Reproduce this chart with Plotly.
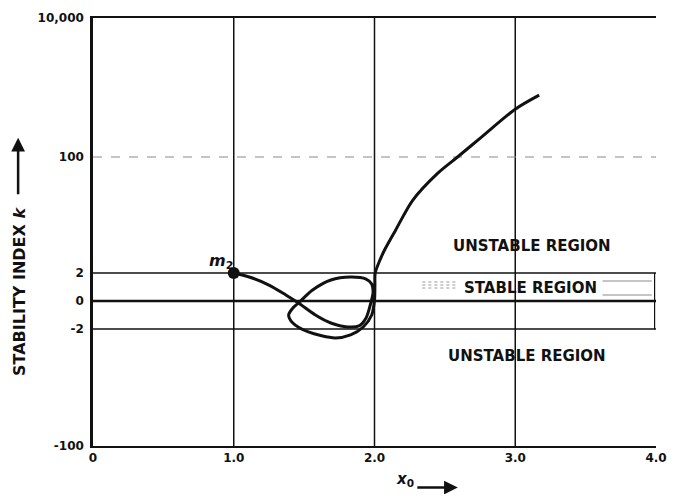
import numpy as np
import plotly.graph_objects as go

# curve: x0 vs stability index k
X0 = [1.00, 1.11, 1.25, 1.37, 1.46, 1.58, 1.69, 1.81, 1.89, 1.94, 1.97, 1.99,
      1.98, 1.94, 1.83, 1.69, 1.56, 1.46, 1.42, 1.39, 1.42, 1.53, 1.72, 1.83,
      1.92, 1.98, 2.00, 2.003, 2.005, 2.04, 2.075, 2.15, 2.27, 2.45, 2.59, 2.76,
      3.00, 3.17]
K = [2.0, 1.56, 0.87, 0.27, -0.08, -0.73, -1.37, -1.77, -1.66, -0.95, -0.17, 0.42,
     0.95, 1.37, 1.56, 1.28, 0.54, -0.08, -0.32, -0.73, -1.37, -2.28, -2.93, -2.59,
     -1.77, -0.73, 0.04, 0.87, 2.0, 3.5, 5.2, 10.0, 26.0, 61.0, 100.0, 194.0,
     490.0, 780.0]

M2_X0 = [1.0]
M2_K = [2.0]

K_TICKS = [-100, -2, 0, 2, 100, 10000]
K_LABELS = ['-100', '-2', '0', '2', '100', '10,000']
X_TICKS = [0, 1, 2, 3, 4]
X_LABELS = ['0', '1.0', '2.0', '3.0', '4.0']

# the k axis is a hand-stretched symlog; offsets of the tick marks in plot units
K_AXIS_POS = [-145, -28, 0, 28, 144, 283]


def k_scale(k):
    k = np.asarray(k, dtype=float)
    kt = np.asarray(K_TICKS, dtype=float)
    t = np.sign(k) * np.log10(1 + np.abs(k))
    t_ticks = np.sign(kt) * np.log10(1 + np.abs(kt))
    return np.interp(t, t_ticks, K_AXIS_POS)


FONT = "DejaVu Sans"
INK = "#111111"

fig = go.Figure()

fig.add_trace(go.Scatter(
    x=X0, y=k_scale(K),
    mode='lines',
    line=dict(color=INK, width=3, shape='spline', smoothing=0.8),
    showlegend=False, hoverinfo='skip'
))
fig.add_trace(go.Scatter(
    x=M2_X0, y=k_scale(M2_K),
    mode='markers',
    marker=dict(color=INK, size=12),
    showlegend=False, hoverinfo='skip'
))

# grid lines
y_lo, y_hi = K_AXIS_POS[0], K_AXIS_POS[-1]
for xv in [1, 2, 3]:
    fig.add_shape(type='line', x0=xv, x1=xv, y0=y_lo, y1=y_hi,
                  line=dict(color=INK, width=1.5), layer='below')
fig.add_shape(type='line', x0=0, x1=4, y0=float(k_scale(100)), y1=float(k_scale(100)),
              line=dict(color='#8a8a8a', width=1.2, dash='dash'), layer='below')
for kv, w in [(2, 1.3), (-2, 1.3), (0, 2.5)]:
    yv = float(k_scale(kv))
    fig.add_shape(type='line', x0=0, x1=4, y0=yv, y1=yv,
                  line=dict(color=INK, width=w), layer='below')
fig.add_shape(type='line', x0=3.99, x1=3.99, y0=float(k_scale(-2)), y1=float(k_scale(2)),
              line=dict(color=INK, width=1.2), layer='below')

# faint hatching around the stable label
for yv in [13, 16, 19]:
    fig.add_shape(type='line', x0=2.34, x1=2.59, y0=yv, y1=yv,
                  line=dict(color='#9a9a9a', width=1, dash='dot'))
for yv in [20, 6]:
    fig.add_shape(type='line', x0=3.62, x1=3.97, y0=yv, y1=yv,
                  line=dict(color='#8a8a8a', width=1))

region_font = dict(family=FONT, size=15, color=INK, weight='bold')
fig.add_annotation(x=3.12, y=55, text="UNSTABLE REGION", showarrow=False, font=region_font)
fig.add_annotation(x=3.11, y=13, text="STABLE REGION", showarrow=False, font=region_font)
fig.add_annotation(x=3.08, y=-55, text="UNSTABLE REGION", showarrow=False, font=region_font)

fig.add_annotation(x=0.91, y=40, text="<i>m</i><sub>2</sub>", showarrow=False,
                   font=dict(family=FONT, size=16, color=INK, weight='bold'))

# axis titles with arrows
fig.add_annotation(xref='paper', yref='paper', x=-0.15, y=0.36,
                   text="STABILITY INDEX <i>k</i>", textangle=-90, showarrow=False,
                   font=dict(family=FONT, size=16, color=INK, weight='bold'))
fig.add_annotation(xref='paper', yref='paper', x=-0.133, y=0.72, text="",
                   showarrow=True, ax=0, ay=58, arrowhead=2, arrowsize=1.1,
                   arrowwidth=2.5, arrowcolor=INK)
fig.add_annotation(xref='paper', yref='paper', x=0.554, y=-0.105,
                   text="<i>x</i><sub>0</sub>", showarrow=False,
                   font=dict(family=FONT, size=15, color=INK, weight='bold'))
fig.add_annotation(xref='paper', yref='paper', x=0.648, y=-0.097, text="",
                   showarrow=True, ax=-42, ay=0, arrowhead=2, arrowsize=1.1,
                   arrowwidth=2.5, arrowcolor=INK)

# the page body adds an 8px margin, so the figure is sized to sit inside the window
fig.update_layout(
    width=660, height=486,
    margin=dict(l=85, r=12, t=10, b=48),
    plot_bgcolor='white', paper_bgcolor='white',
    font=dict(family=FONT, color=INK),
    xaxis=dict(
        range=[0, 4], tickvals=X_TICKS, ticktext=X_LABELS,
        showgrid=False, zeroline=False, automargin=False,
        showline=True, linecolor=INK, linewidth=2, mirror=True,
        ticks='',
        tickfont=dict(family=FONT, size=12, color=INK, weight='bold'),
    ),
    yaxis=dict(
        range=[y_lo, y_hi], tickvals=list(k_scale(K_TICKS)), ticktext=K_LABELS,
        showgrid=False, zeroline=False, automargin=False,
        showline=True, linecolor=INK, linewidth=2.5,
        ticks='', ticklabelstandoff=4,
        tickfont=dict(family=FONT, size=12, color=INK, weight='bold'),
    ),
)

fig.write_html("out.html")
